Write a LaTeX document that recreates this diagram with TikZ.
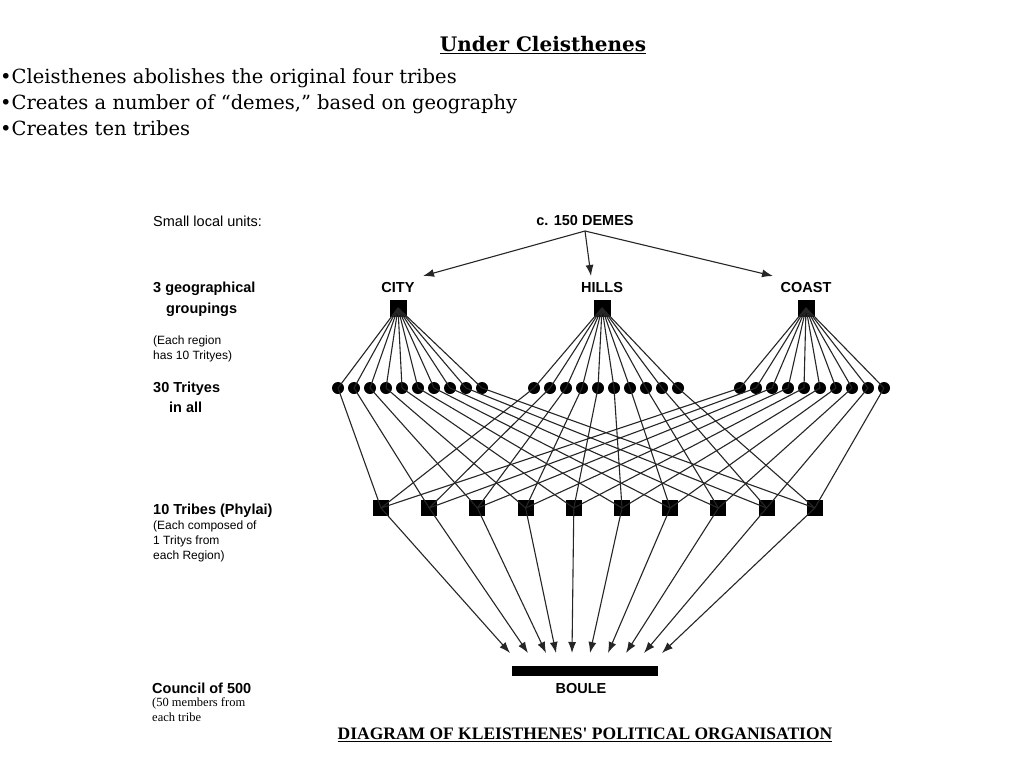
\documentclass[tikz,border=0pt]{standalone}
\usepackage{fontspec}
\setmainfont{DejaVu Serif}
\newfontfamily\myarial{Liberation Sans}
\newfontfamily\mytimes{Liberation Serif}
\usetikzlibrary{arrows.meta}
\begin{document}
\begin{tikzpicture}[x=1pt,y=-1pt,
  lab/.style={font=\myarial\fontsize{14.5}{17}\selectfont,anchor=west,align=left,inner sep=0},
  blab/.style={font=\myarial\bfseries\fontsize{14.5}{17}\selectfont,anchor=west,align=left,inner sep=0},
  small/.style={font=\myarial\fontsize{12}{15}\selectfont,anchor=north west,align=left,inner sep=0},
  sq/.style={fill=black,minimum size=16pt,inner sep=0},
  sq2/.style={fill=black,minimum size=17pt,inner sep=0},
  dot/.style={circle,fill=black,minimum size=12pt,inner sep=0},
  ln/.style={line width=1.1pt,black!85},
  arr/.style={ln,-{Latex[length=11pt,width=8pt]}},
  hd/.style={font=\myarial\bfseries\fontsize{14.5}{17}\selectfont,inner sep=1pt}]
\useasboundingbox (0,0) rectangle (1024,768);
\fill[white] (0,0) rectangle (1024,768);
\node[font=\bfseries\fontsize{20}{24}\selectfont] (title) at (543,45) {\underline{Under Cleisthenes}};
\node[anchor=north west,inner sep=0,align=left,font=\fontsize{19.5}{26}\selectfont] (bul) at (0,68)
 {•Cleisthenes abolishes the original four tribes\\•Creates a number of “demes,” based on geography\\•Creates ten tribes};
% left labels
\node[lab] (l1) at (153,221) {Small local units:};
\node[blab] (l2) at (153,289) {3 geographical};
\node[blab] (l2b) at (166,310) {groupings};
\node[small] (l3) at (153,336) {(Each region\\has 10 Trityes)};
\node[blab] (l4) at (153,389) {30 Trityes};
\node[blab] (l4b) at (169,407) {in all};
\node[blab] (l5) at (153,511) {10 Tribes (Phylai)};
\node[small] (l6) at (153,521) {(Each composed of\\1 Tritys from\\each Region)};
\node[blab] (l7) at (152,688) {Council of 500};
\node[small,font=\mytimes\fontsize{12.5}{15}\selectfont] (l8) at (152,697) {(50 members from\\each tribe};
% top
\node[hd] (demes) at (585,221) {c. 150 DEMES};
\node[hd] (cityl) at (398,288) {CITY};
\node[hd] (hillsl) at (602,288) {HILLS};
\node[hd] (coastl) at (806,288) {COAST};
\coordinate (dm) at (585,231);
\draw[arr] (dm) -- (423,276);
\draw[arr] (dm) -- (591,276);
\draw[arr] (dm) -- (773,276);
\node[sq2] (R1) at (398,308) {};
\node[sq2] (R2) at (602,308) {};
\node[sq2] (R3) at (806,308) {};
% trittyes
\foreach \i in {1,...,10}{
  \node[dot] (a\i) at ({338+16*(\i-1)},388) {};
  \node[dot] (b\i) at ({534+16*(\i-1)},388) {};
  \node[dot] (c\i) at ({740+16*(\i-1)},388) {};
  \node[sq] (t\i) at ({381+48.2*(\i-1)},508) {};
}
\foreach \i in {1,...,10}{
  \draw[ln] (R1.center) -- (a\i.center);
  \draw[ln] (R2.center) -- (b\i.center);
  \draw[ln] (R3.center) -- (c\i.center);
  \draw[ln] (a\i.center) -- (t\i.center);
  \draw[ln] (b\i.center) -- (t\i.center);
  \draw[ln] (c\i.center) -- (t\i.center);
}
% boule
\node[fill=black,minimum width=146pt,minimum height=10pt,inner sep=0] (boule) at (585,671) {};
\node[hd] (boulel) at (581,688) {BOULE};
\foreach \i/\x in {1/510,2/528,3/546,4/556,5/572,6/590,7/608,8/626,9/644,10/662}{
  \coordinate (e\i) at (\x,653);
  \draw[arr] (t\i.center) -- (e\i);
}
\node[font=\mytimes\bfseries\fontsize{17.5}{20}\selectfont,inner sep=1pt] (cap) at (585,735) {\underline{DIAGRAM OF KLEISTHENES' POLITICAL ORGANISATION}};
\end{tikzpicture}
\end{document}
